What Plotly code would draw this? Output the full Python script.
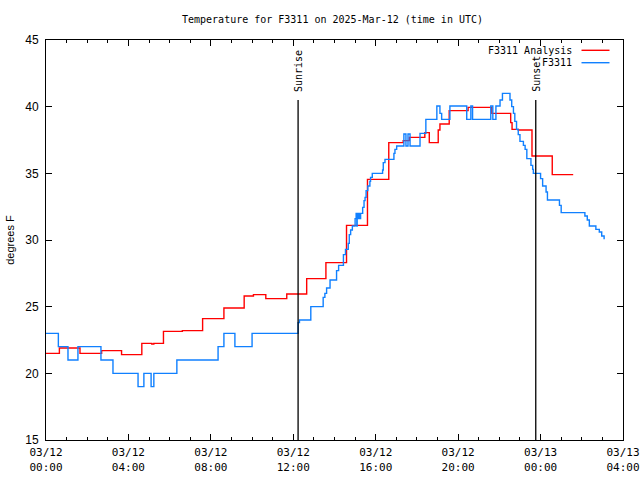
import plotly.graph_objects as go

# ---- data ----
obs_times = [
    "2025-03-12 00:00", "2025-03-12 00:36", "2025-03-12 01:04", "2025-03-12 01:33",
    "2025-03-12 02:40", "2025-03-12 03:15", "2025-03-12 04:28", "2025-03-12 04:45",
    "2025-03-12 05:06", "2025-03-12 05:14", "2025-03-12 06:21", "2025-03-12 08:21",
    "2025-03-12 08:38", "2025-03-12 09:10", "2025-03-12 10:00", "2025-03-12 12:14",
    "2025-03-12 12:18", "2025-03-12 12:51", "2025-03-12 13:27", "2025-03-12 13:32",
    "2025-03-12 13:37", "2025-03-12 13:47", "2025-03-12 14:06", "2025-03-12 14:12",
    "2025-03-12 14:26", "2025-03-12 14:32", "2025-03-12 14:40", "2025-03-12 14:43",
    "2025-03-12 14:47", "2025-03-12 14:52", "2025-03-12 15:00", "2025-03-12 15:03",
    "2025-03-12 15:05", "2025-03-12 15:06", "2025-03-12 15:09", "2025-03-12 15:12",
    "2025-03-12 15:16", "2025-03-12 15:22", "2025-03-12 15:26", "2025-03-12 15:29",
    "2025-03-12 15:32", "2025-03-12 15:37", "2025-03-12 15:43", "2025-03-12 15:45",
    "2025-03-12 15:50", "2025-03-12 16:20", "2025-03-12 16:22", "2025-03-12 16:27",
    "2025-03-12 16:53", "2025-03-12 16:56", "2025-03-12 17:01", "2025-03-12 17:22",
    "2025-03-12 17:28", "2025-03-12 17:34", "2025-03-12 17:40", "2025-03-12 18:09",
    "2025-03-12 18:26", "2025-03-12 18:58", "2025-03-12 19:07", "2025-03-12 19:12",
    "2025-03-12 19:36", "2025-03-12 20:25", "2025-03-12 20:37", "2025-03-12 20:42",
    "2025-03-12 21:35", "2025-03-12 21:41", "2025-03-12 21:50", "2025-03-12 22:02",
    "2025-03-12 22:09", "2025-03-12 22:31", "2025-03-12 22:36", "2025-03-12 22:41",
    "2025-03-12 22:45", "2025-03-12 22:50", "2025-03-12 22:55", "2025-03-12 23:00",
    "2025-03-12 23:10", "2025-03-12 23:15", "2025-03-12 23:20", "2025-03-12 23:32",
    "2025-03-12 23:37", "2025-03-12 23:39", "2025-03-13 00:00", "2025-03-13 00:06",
    "2025-03-13 00:16", "2025-03-13 00:20", "2025-03-13 00:55", "2025-03-13 01:00",
    "2025-03-13 02:09", "2025-03-13 02:16", "2025-03-13 02:22", "2025-03-13 02:41",
    "2025-03-13 02:51", "2025-03-13 02:58", "2025-03-13 03:05",
]
obs_temps = [
    23, 22, 21, 22,
    21, 20, 19, 20,
    19, 20, 21, 22,
    23, 22, 23, 23.8,
    24.0, 25.0, 25.7, 26.0,
    26.4, 27.0, 27.7, 28.1,
    28.9, 29.3, 29.75, 30.4,
    30.75, 31.05, 31.6, 32.0,
    31.05, 31.6, 32.0, 31.6,
    32.0, 32.45, 32.95, 33.2,
    33.7, 34.05, 34.4, 34.7,
    35.0, 35.25, 35.8, 36.05,
    36.5, 36.8, 37.05, 37.95,
    37.05, 37.95, 37.05, 38.0,
    39.05, 40.05, 39.5, 39.05,
    40.05, 39.05, 40.05, 39.05,
    40.05, 39.05, 40.05, 40.5,
    41.0, 40.5, 40.0, 39.5,
    38.9, 38.3, 37.9, 37.4,
    37.1, 36.8, 36.1, 35.6,
    35.3, 35.0, 34.6, 34.05,
    33.6, 33.0, 32.6, 32.05,
    31.8, 31.5, 31.05, 30.8,
    30.6, 30.3, 30.05,
]

ana_times = [
    "2025-03-12 00:00", "2025-03-12 00:39", "2025-03-12 01:39", "2025-03-12 02:42",
    "2025-03-12 03:40", "2025-03-12 04:39", "2025-03-12 05:08", "2025-03-12 05:14",
    "2025-03-12 05:42", "2025-03-12 06:37", "2025-03-12 07:36", "2025-03-12 08:38",
    "2025-03-12 09:37", "2025-03-12 10:04", "2025-03-12 10:40", "2025-03-12 11:41",
    "2025-03-12 12:39", "2025-03-12 13:35", "2025-03-12 14:35", "2025-03-12 15:36",
    "2025-03-12 16:38", "2025-03-12 17:20", "2025-03-12 17:38", "2025-03-12 18:23",
    "2025-03-12 18:36", "2025-03-12 19:02", "2025-03-12 19:07", "2025-03-12 19:34",
    "2025-03-12 20:29", "2025-03-12 21:38", "2025-03-12 22:33", "2025-03-12 22:37",
    "2025-03-12 22:55", "2025-03-12 23:35", "2025-03-13 00:34", "2025-03-13 01:35",
]
ana_temps = [
    21.5, 21.9, 21.5, 21.7,
    21.4, 22.25, 22.2, 22.25,
    23.15, 23.2, 24.1, 24.9,
    25.8, 25.9, 25.6, 25.95,
    27.1, 28.3, 31.1, 34.55,
    37.3, 37.45, 37.7, 38.05,
    37.3, 38.25, 38.7, 39.7,
    39.95, 39.5, 38.8, 38.3,
    38.25, 36.3, 34.9, 34.9,
]

sun_times = ["2025-03-12 12:14", "2025-03-12 23:46"]
sun_labels = ["Sunrise", "Sunset"]

tick_vals = ["2025-03-12 00:00", "2025-03-12 04:00", "2025-03-12 08:00", "2025-03-12 12:00",
             "2025-03-12 16:00", "2025-03-12 20:00", "2025-03-13 00:00", "2025-03-13 04:00"]
tick_text = ["03/12<br>00:00", "03/12<br>04:00", "03/12<br>08:00", "03/12<br>12:00",
             "03/12<br>16:00", "03/12<br>20:00", "03/13<br>00:00", "03/13<br>04:00"]
y_ticks = [15, 20, 25, 30, 35, 40, 45]

series_names = ["F3311 Analysis", "F3311"]
series_colors = ["#ff0000", "#1080ff"]

MONO = "DejaVu Sans Mono"
SANS = "Liberation Sans"

fig = go.Figure()
fig.add_trace(go.Scatter(x=ana_times, y=ana_temps, mode="lines", line_shape="hv",
                         line=dict(color=series_colors[0], width=1.4),
                         name=series_names[0], showlegend=False))
fig.add_trace(go.Scatter(x=obs_times, y=obs_temps, mode="lines", line_shape="hv",
                         line=dict(color=series_colors[1], width=1.4),
                         name=series_names[1], showlegend=False))

# sunrise / sunset markers
for t, lab in zip(sun_times, sun_labels):
    fig.add_shape(type="line", xref="x", yref="paper", x0=t, x1=t, y0=0, y1=0.85,
                  line=dict(color="black", width=1.3))
    fig.add_annotation(x=t, y=0.85, xref="x", yref="paper", text=lab, textangle=-90,
                       showarrow=False, yanchor="bottom", xanchor="center", yshift=6,
                       font=dict(family=MONO, size=10, color="black"))

# legend (gnuplot style: text then sample)
leg_y = [1 - 10.3 / 400, 1 - 22.7 / 400]
for name, col, yy in zip(series_names, series_colors, leg_y):
    fig.add_annotation(x=(574 - 46) / 577, y=yy, xref="paper", yref="paper", text=name,
                       showarrow=False, xanchor="right", yanchor="middle",
                       font=dict(family=MONO, size=10, color="black"))
    fig.add_shape(type="line", xref="paper", yref="paper",
                  x0=(581.5 - 46) / 577, x1=(609.5 - 46) / 577, y0=yy, y1=yy,
                  line=dict(color=col, width=1.4))

fig.update_layout(
    width=640, height=480,
    margin=dict(l=46, r=17, t=40, b=40, autoexpand=False),
    paper_bgcolor="white", plot_bgcolor="white",
    title=dict(text="Temperature for F3311 on 2025-Mar-12 (time in UTC)",
               xref="paper", x=(332.5 - 46) / 577, xanchor="center",
               y=1 - 19 / 480, yanchor="middle",
               font=dict(family=MONO, size=10, color="black")),
    font=dict(family=MONO, size=11, color="black"),
)
fig.update_xaxes(
    type="date", range=["2025-03-12 00:00", "2025-03-13 04:00"], automargin=False,
    tickvals=tick_vals, ticktext=tick_text, ticks="inside", ticklen=6,
    tickcolor="black", showline=True, linecolor="black", linewidth=1, mirror="ticks",
    showgrid=False, zeroline=False, ticklabelstandoff=2,
    tickfont=dict(family=MONO, size=11, color="black"),
    minor=dict(dtick=3600000, ticks="inside", ticklen=3, tickcolor="black", showgrid=False),
)
fig.update_yaxes(
    range=[15, 45], tickvals=y_ticks, ticks="inside", ticklen=6, tickcolor="black",
    automargin=False,
    showline=True, linecolor="black", linewidth=1, mirror="ticks",
    showgrid=False, zeroline=False, ticklabelstandoff=4,
    tickfont=dict(family=SANS, size=12, color="black"),
    title=dict(text="degrees F", font=dict(family=SANS, size=11, color="black"), standoff=8),
)

fig.write_html("out.html", config={"displayModeBar": False},
               post_script="document.body.style.margin='0';document.body.style.overflow='hidden';")
